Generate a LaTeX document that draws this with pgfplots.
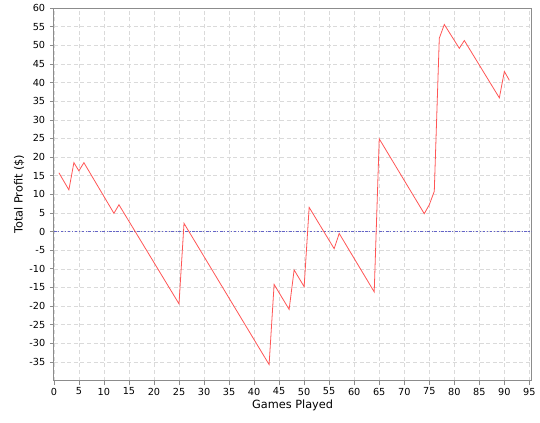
\documentclass[border=0pt]{standalone}
\usepackage{fontspec}
\setmainfont{DejaVu Sans}
\usepackage{pgfplots}
\pgfplotsset{compat=1.18}

\definecolor{series}{RGB}{255,85,85}
\definecolor{gridc}{RGB}{218,218,218}
\definecolor{framec}{RGB}{140,140,140}
\definecolor{zeroc}{RGB}{100,100,200}

\begin{document}
\begin{tikzpicture}
\begin{axis}[
  scale only axis,
  width=359pt, height=280pt,
  xmin=0, xmax=95.4,
  ymin=-40, ymax=60,
  xtick={0,5,...,95},
  ytick={-35,-30,...,60},
  grid=major,
  major grid style={gridc, dash pattern=on 3pt off 2pt, line width=0.45pt},
  axis line style={framec, line width=0.6pt},
  tick style={framec, line width=0.5pt},
  tick align=outside,
  xtick pos=bottom, ytick pos=left,
  major tick length=3pt,
  tick label style={font=\fontsize{7.3}{8}\selectfont},
  /pgf/number format/assume math mode=true,
  xticklabel style={yshift=1pt},
  xlabel={Games Played},
  ylabel={Total Profit (\$)},
  label style={font=\fontsize{8.5}{10}\selectfont},
  xlabel style={yshift=3pt},
  ylabel style={yshift=-3pt},
]
\draw[zeroc, line width=0.5pt, dash pattern=on 2pt off 1.2pt on 0.8pt off 1.2pt]
  (axis cs:0,0) -- (axis cs:95.4,0);
\addplot[series, line width=0.6pt, mark=none] coordinates {
(1,15.8) (3,11.2) (4,18.5) (5,16.3) (6,18.5) (12,4.9) (13,7.2)
(25,-19.4) (26,2.2) (43,-35.7) (44,-14.2) (47,-20.9) (48,-10.3)
(50,-14.8) (51,6.5) (56,-4.6) (57,-0.5) (64,-16.2) (65,24.9)
(74,4.8) (75,7.2) (76,10.8) (77,51.9) (78,55.6) (81,49.2) (82,51.3)
(89,35.9) (90,43.0) (91,40.6)
};
\end{axis}
\path ([xshift=-40.5pt,yshift=-31.5pt]current axis.south west) rectangle ([xshift=5.25pt,yshift=3.75pt]current axis.north east);
\end{tikzpicture}
\end{document}
